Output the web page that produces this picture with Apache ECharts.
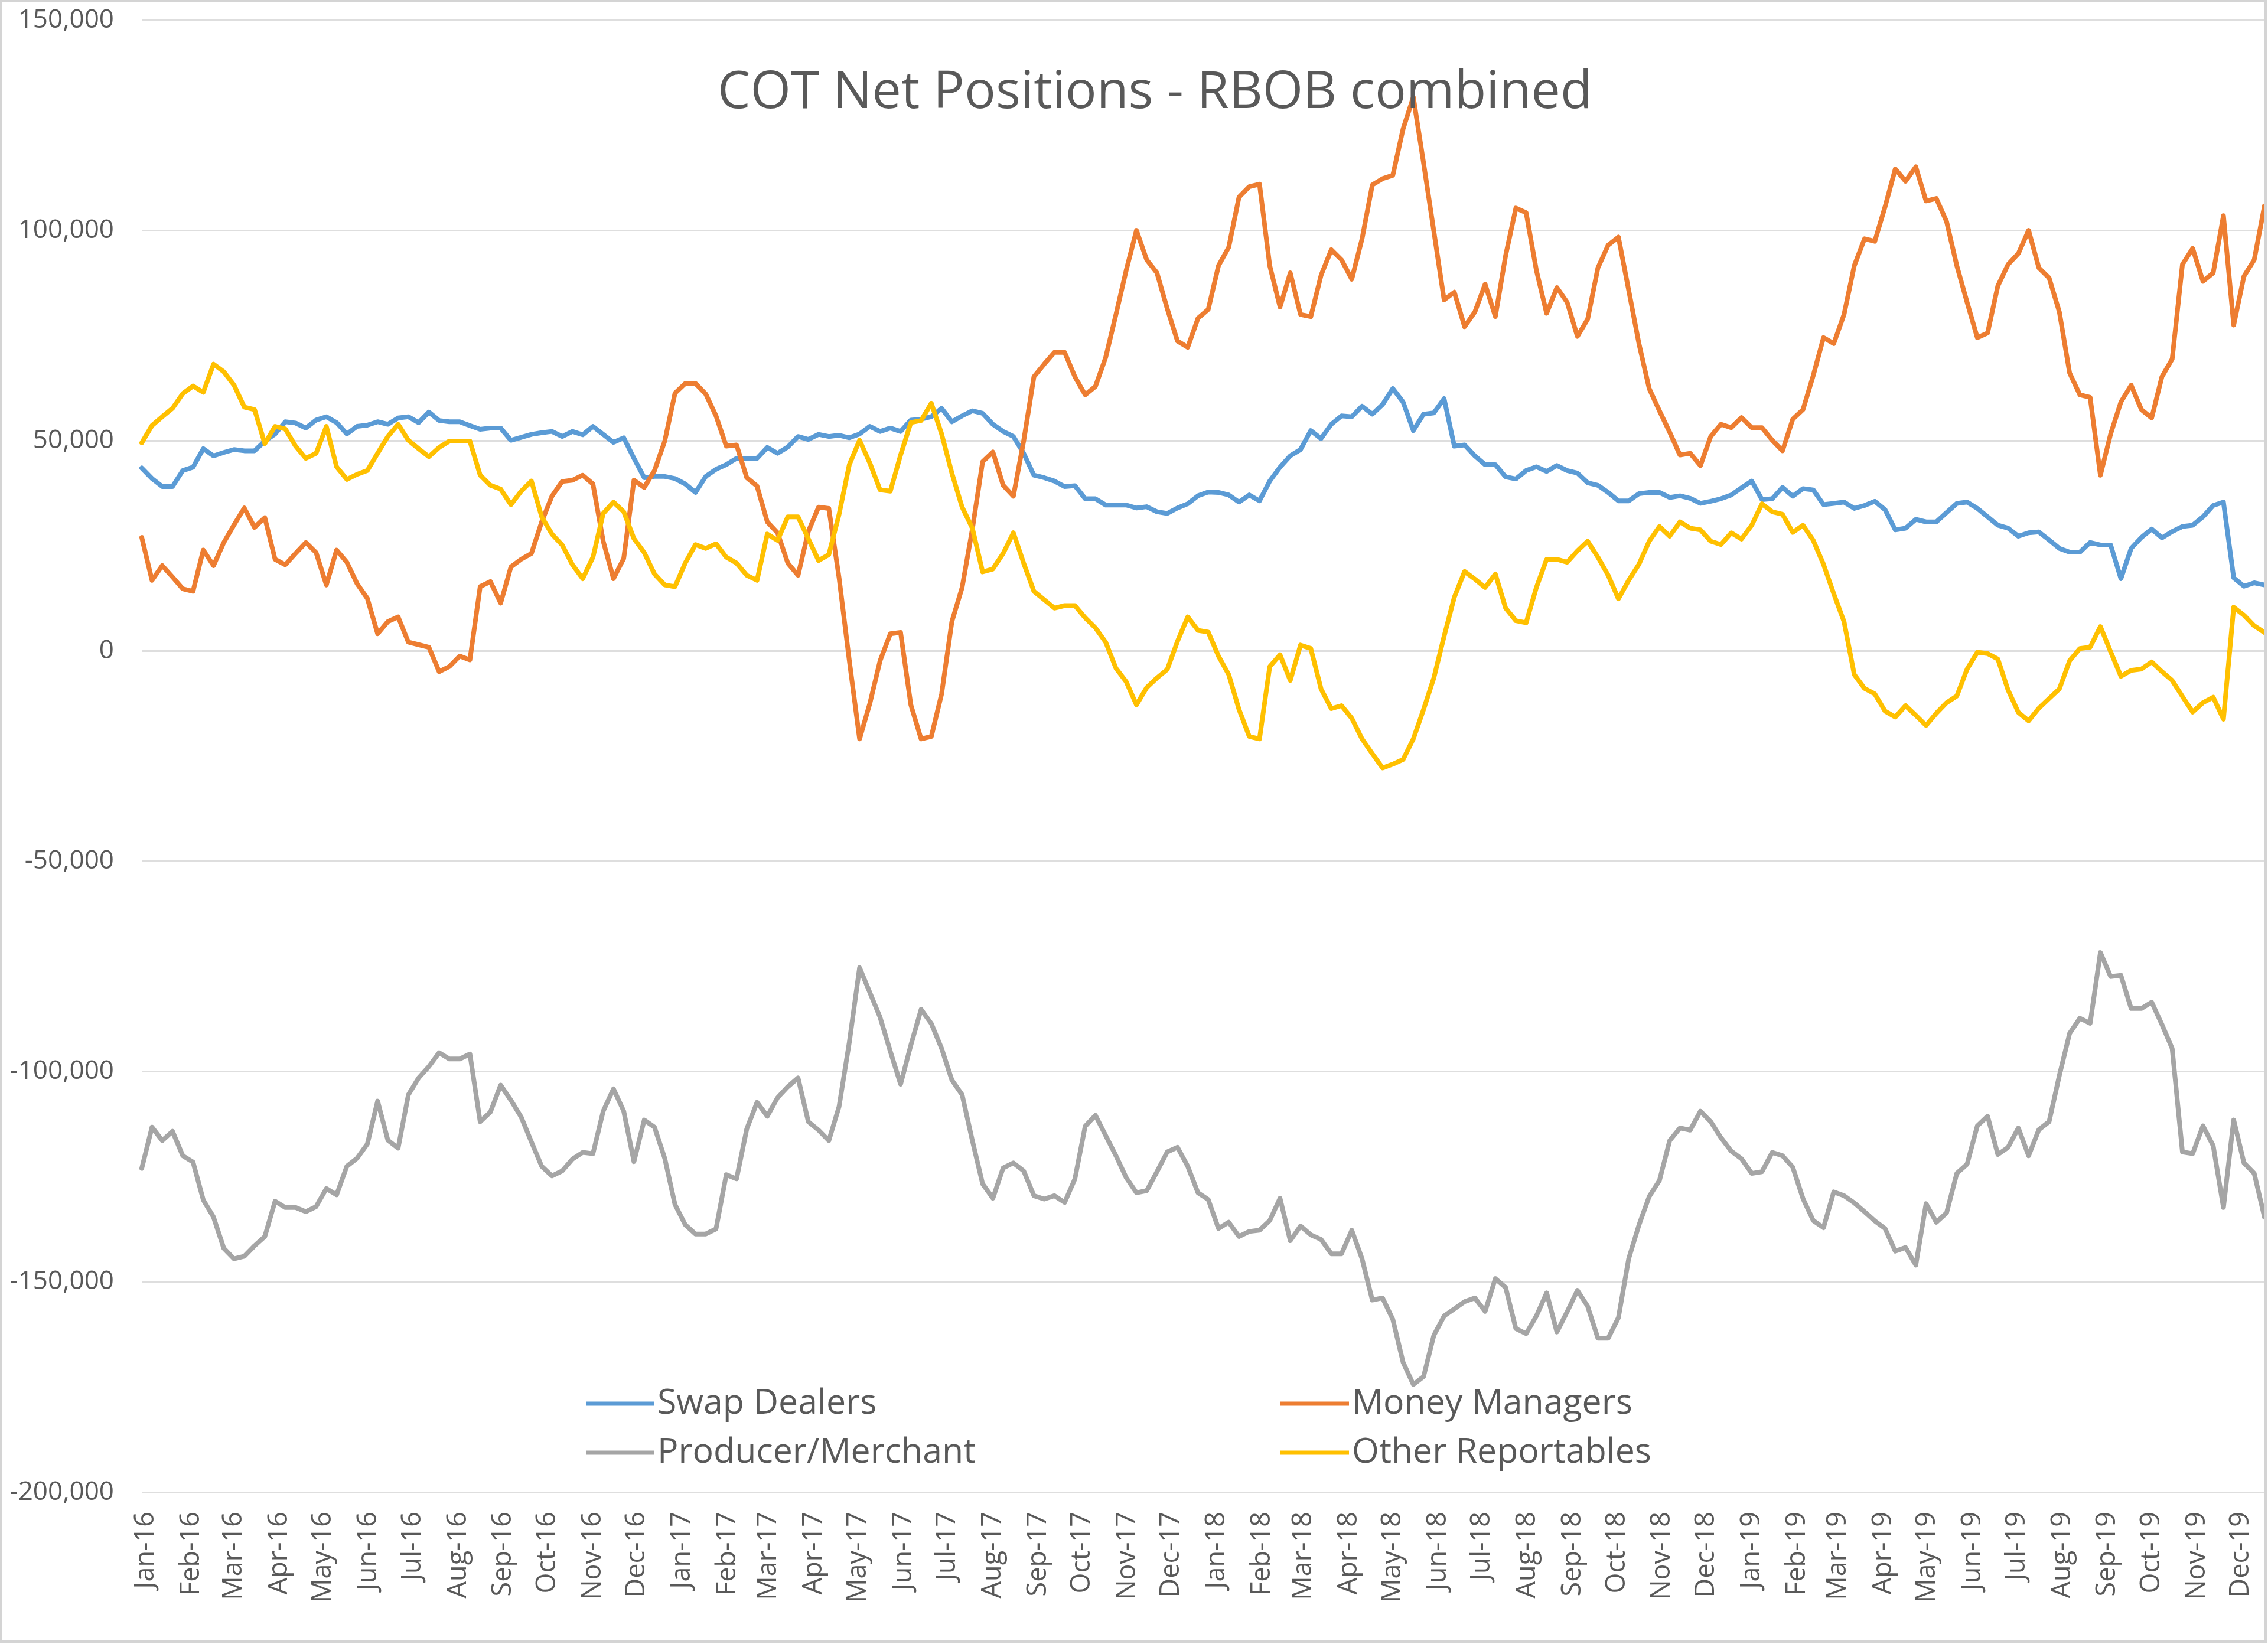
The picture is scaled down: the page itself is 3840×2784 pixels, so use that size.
<!DOCTYPE html>
<html>
<head>
<meta charset="utf-8">
<script src="https://cdn.jsdelivr.net/npm/echarts@6.0.0/dist/echarts.min.js"></script>
<style>
html,body{margin:0;padding:0;background:#ffffff;}
#chart{width:3840px;height:2784px;}
</style>
</head>
<body>
<div id="chart"></div>
<script>
// Weekly COT report dates: first report 29-Dec-2015, every 7 days
const FIRST_REPORT = Date.UTC(2015, 11, 29);
const WEEK_MS = 7 * 86400000;

const monthLabels = [
  'Jan-16','Feb-16','Mar-16','Apr-16','May-16','Jun-16','Jul-16','Aug-16','Sep-16','Oct-16','Nov-16','Dec-16',
  'Jan-17','Feb-17','Mar-17','Apr-17','May-17','Jun-17','Jul-17','Aug-17','Sep-17','Oct-17','Nov-17','Dec-17',
  'Jan-18','Feb-18','Mar-18','Apr-18','May-18','Jun-18','Jul-18','Aug-18','Sep-18','Oct-18','Nov-18','Dec-18',
  'Jan-19','Feb-19','Mar-19','Apr-19','May-19','Jun-19','Jul-19','Aug-19','Sep-19','Oct-19','Nov-19','Dec-19'
];

const seriesNames = ['Swap Dealers', 'Money Managers', 'Producer/Merchant', 'Other Reportables'];

const swapDealers = [
  43500,41000,39100,39100,42900,43700,48100,46400,47200,47900,
  47600,47600,49900,51600,54500,54200,53000,54900,55700,54300,
  51600,53400,53700,54500,53900,55400,55700,54300,56800,54800,
  54500,54500,53600,52700,53000,53000,50100,50800,51500,51900,
  52200,51000,52200,51400,53400,51500,49600,50700,45800,41200,
  41500,41500,41000,39700,37700,41500,43200,44300,45800,45800,
  45800,48400,47000,48500,51000,50300,51500,51000,51300,50700,
  51600,53400,52200,53000,52200,54900,55100,55700,57700,54500,
  55900,57100,56500,53900,52200,51000,47000,41800,41200,40400,
  39100,39300,36200,36200,34700,34700,34700,34000,34300,33100,
  32700,34000,35000,36900,37800,37700,37100,35400,37100,35700,
  40400,43700,46400,47900,52400,50500,53900,55900,55700,58200,
  56300,58600,62400,59200,52400,56300,56600,60000,48700,49000,
  46400,44300,44300,41400,40900,42900,43800,42700,44100,42900,
  42300,40000,39400,37700,35700,35700,37400,37700,37700,36500,
  36900,36300,35100,35600,36200,37100,38800,40400,36000,36200,
  38900,36800,38600,38300,34800,35100,35400,33900,34600,35600,
  33600,28800,29200,31300,30700,30700,32900,35100,35400,33900,
  31900,29900,29200,27300,28100,28300,26400,24400,23500,23500,
  25800,25200,25200,17200,24400,27000,29000,26900,28400,29600,
  29900,31900,34600,35400,17400,15400,16200,15700
];

const moneyManagers = [
  27000,16800,20300,17600,14800,14200,24000,20300,25800,30000,
  34000,29400,31700,21800,20500,23200,25800,23400,15700,24000,
  21100,16000,12500,4100,7000,8100,2100,1500,900,-4900,
  -3700,-1200,-2100,15300,16500,11400,20000,21800,23200,30700,
  36800,40300,40600,41800,39700,26100,17200,22000,40600,38900,
  42900,49900,61300,63600,63600,61100,55900,48700,49000,41200,
  39200,30700,28100,20900,18000,28400,34200,33900,17400,-2300,
  -20900,-12500,-2300,4100,4400,-12800,-20900,-20300,-10200,7000,
  15100,29000,45000,47300,39400,36800,49900,65200,68200,71000,
  71000,65200,60900,62900,69800,80000,90500,100000,93000,89900,
  81400,73700,72200,79100,81200,91600,96000,107900,110400,111000,
  91600,81800,89900,80000,79500,89300,95400,93000,88400,98000,
  110800,112300,113100,124100,131700,116000,99800,83500,85300,77100,
  80600,87200,79500,94000,105300,104200,90500,80300,86400,82900,
  74800,78900,91100,96500,98400,85800,73100,62400,57100,52000,
  46600,47000,44100,51000,53900,53100,55500,53100,53100,50100,
  47600,55100,57400,65500,74500,73100,80000,91600,98000,97400,
  105600,114600,111700,115100,107000,107600,102100,91600,82900,74500,
  75600,86800,91900,94500,100000,91100,88700,80600,66100,60900,
  60300,41800,51600,59200,63200,57400,55400,65200,69400,91900,
  95700,87900,89900,103500,77500,89100,93000,105800
];

const producerMerchant = [
  -123000,-113200,-116400,-114200,-120000,-121500,-130500,-134600,-142000,-144500,
  -143900,-141400,-139200,-130800,-132300,-132300,-133300,-132100,-127800,-129300,
  -122500,-120600,-117200,-107000,-116300,-118200,-105500,-101500,-98800,-95500,
  -97000,-97000,-95800,-111900,-109600,-103200,-106800,-110800,-116700,-122500,
  -124800,-123600,-120800,-119200,-119500,-109400,-104100,-109400,-121400,-111500,
  -113200,-120600,-131600,-136400,-138600,-138600,-137400,-124500,-125500,-113600,
  -107300,-110600,-106200,-103600,-101500,-111900,-113900,-116400,-108300,-93000,
  -75300,-81200,-87100,-95200,-103000,-93700,-85200,-88600,-94500,-102000,
  -105500,-116400,-126700,-130100,-122900,-121700,-123600,-129500,-130300,-129500,
  -131100,-125500,-113000,-110400,-115200,-120000,-125200,-128800,-128300,-123800,
  -119100,-118000,-122500,-128800,-130400,-137300,-135800,-139200,-138000,-137700,
  -135400,-130100,-140200,-136700,-138800,-139900,-143300,-143300,-137700,-144500,
  -154300,-153800,-158900,-169100,-174400,-172500,-162700,-158100,-156400,-154700,
  -153800,-157000,-149200,-151300,-161100,-162300,-158100,-152600,-161900,-157100,
  -152000,-155800,-163400,-163400,-158500,-144500,-136500,-129700,-125900,-116400,
  -113400,-113900,-109400,-111900,-115700,-118900,-120700,-124200,-123800,-119200,
  -120000,-122700,-130200,-135400,-137100,-128600,-129500,-131200,-133300,-135500,
  -137300,-142700,-141800,-146000,-131400,-135800,-133600,-124200,-122000,-112900,
  -110600,-119700,-118000,-113400,-120000,-113800,-111900,-100900,-90900,-87300,
  -88500,-71700,-77400,-77100,-85000,-85000,-83500,-88800,-94500,-119100,
  -119500,-112900,-117600,-132300,-111500,-121700,-124200,-134600
];

const otherReportables = [
  49500,53600,55700,57700,61200,63000,61500,68200,66400,63200,
  58000,57400,49300,53400,52800,48700,45800,47000,53400,43800,
  40800,42000,42900,47000,51000,53900,50100,48100,46200,48400,
  49900,49900,49900,41800,39400,38500,34800,38000,40400,31900,
  27800,25200,20500,17200,22300,32700,35400,33100,26700,23400,
  18300,15700,15300,20900,25300,24400,25500,22300,20900,18000,
  16800,27800,26300,31900,31900,26700,21500,22900,32500,44300,
  50100,44700,38300,38000,46600,54300,54800,58900,51600,42300,
  34200,29200,18800,19500,23200,28100,20900,14200,12200,10200,
  10800,10800,7900,5500,2100,-4100,-7300,-12800,-8700,-6400,
  -4400,2300,8100,4900,4500,-1200,-5600,-13900,-20300,-20900,
  -3700,-900,-7000,1400,600,-9000,-13700,-13000,-16000,-20900,
  -24400,-27800,-26900,-25800,-20900,-13900,-6400,3500,12800,18900,
  17100,15100,18300,10200,7200,6700,15100,21800,21800,21100,
  23800,26100,22300,18000,12400,16800,20600,26100,29600,27300,
  30700,29200,28800,26100,25300,28100,26600,29900,35000,33100,
  32500,28200,29900,26300,20600,13600,7000,-5600,-8900,-10200,
  -14300,-15700,-13000,-15300,-17700,-14800,-12300,-10700,-4300,-300,
  -600,-1900,-9300,-14600,-16600,-13600,-11300,-9000,-2300,600,
  900,5800,-200,-6000,-4600,-4300,-2600,-4900,-7000,-10800,
  -14500,-12300,-11000,-16200,10400,8500,6000,4400
];

const colors = ['#5B9BD5', '#ED7D31', '#A5A5A5', '#FFC000'];
const seriesValues = [swapDealers, moneyManagers, producerMerchant, otherReportables];

const reportDates = swapDealers.map((_, i) => FIRST_REPORT + i * WEEK_MS);
const monthTicks = monthLabels.map((_, k) => Date.UTC(2016, k, 1));

const FONT = "'Open Sans', 'Noto Sans', sans-serif";
const TEXT_COLOR = '#595959';

const chart = echarts.init(document.getElementById('chart'), null, {renderer: 'canvas'});

const option = {
  animation: false,
  backgroundColor: '#ffffff',
  title: {
    text: 'COT Net Positions - RBOB combined',
    left: 1215,
    top: 108,
    padding: 0,
    textStyle: {fontFamily: FONT, fontSize: 88, fontWeight: 'normal', color: TEXT_COLOR, lineHeight: 100}
  },
  legend: [
    {
      data: [seriesNames[0], seriesNames[2]],
      orient: 'vertical',
      left: 992, top: 2347,
      padding: 0,
      icon: 'rect', itemWidth: 116, itemHeight: 7, itemGap: 23,
      textStyle: {fontFamily: FONT, fontSize: 59, color: TEXT_COLOR, lineHeight: 60}
    },
    {
      data: [seriesNames[1], seriesNames[3]],
      orient: 'vertical',
      left: 2168, top: 2347,
      padding: 0,
      icon: 'rect', itemWidth: 116, itemHeight: 7, itemGap: 23,
      textStyle: {fontFamily: FONT, fontSize: 59, color: TEXT_COLOR, lineHeight: 60}
    }
  ],
  grid: {left: 240, right: 6, top: 34, bottom: 257, containLabel: false},
  xAxis: {
    type: 'value',
    min: reportDates[0],
    max: reportDates[reportDates.length - 1],
    axisLine: {show: false},
    axisTick: {show: false},
    splitLine: {show: false},
    axisLabel: {
      customValues: monthTicks,
      rotate: 90,
      margin: 33,
      fontFamily: FONT,
      fontSize: 45,
      color: TEXT_COLOR,
      hideOverlap: false,
      formatter: function (value) {
        const d = new Date(value);
        const idx = (d.getUTCFullYear() - 2016) * 12 + d.getUTCMonth();
        return monthLabels[idx] || '';
      }
    }
  },
  yAxis: {
    type: 'value',
    min: -200000,
    max: 150000,
    interval: 50000,
    axisLine: {show: false},
    axisTick: {show: false},
    splitLine: {show: true, lineStyle: {color: '#dedede', width: 3}},
    axisLabel: {
      margin: 47,
      fontFamily: FONT,
      fontSize: 44,
      color: TEXT_COLOR,
      formatter: v => v.toLocaleString('en-US')
    }
  },
  series: seriesNames.map((name, s) => ({
    name: name,
    type: 'line',
    data: seriesValues[s].map((v, i) => [reportDates[i], v]),
    showSymbol: false,
    symbol: 'none',
    color: colors[s],
    lineStyle: {width: 8, color: colors[s], cap: 'round', join: 'round'},
    emphasis: {disabled: true},
    clip: true
  })),
  graphic: [{
    type: 'rect',
    shape: {x: 2, y: 2, width: 3834, height: 2778},
    style: {fill: 'none', stroke: '#d4d4d4', lineWidth: 4},
    silent: true,
    z: 100
  }]
};

chart.setOption(option);
</script>
</body>
</html>
